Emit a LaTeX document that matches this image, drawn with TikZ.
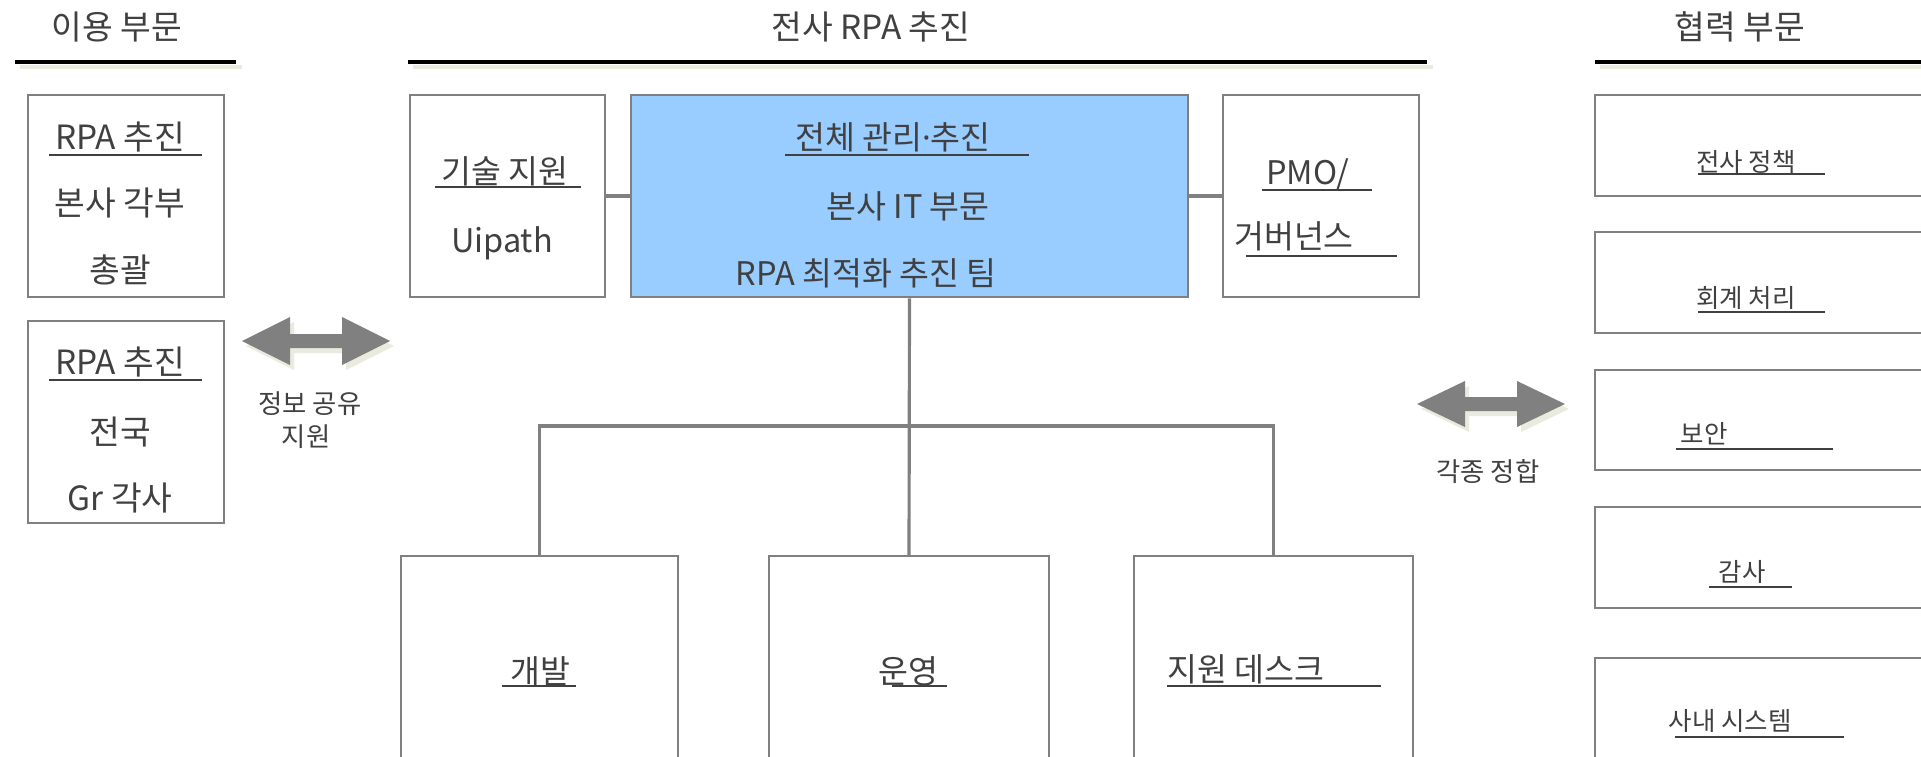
\documentclass[tikz,border=0pt]{standalone}
\usepackage{fontspec}
\setmainfont{Noto Sans CJK KR}
\newfontfamily\dotfont{Noto Sans}
\usetikzlibrary{fit}
\definecolor{boxgray}{RGB}{128,128,128}
\definecolor{txtgray}{RGB}{64,64,64}
\definecolor{headblue}{RGB}{153,204,255}
\definecolor{shade}{RGB}{234,234,222}
\begin{document}
\begin{tikzpicture}[x=0.02cm, y=-0.02cm,
                    box/.style={draw=boxgray, line width=1.5pt, inner sep=0pt},
                    link/.style={draw=boxgray, line width=1.8pt},
                    txt/.style={text=txtgray, inner sep=0pt, font=\fontsize{18.5}{22}\selectfont},
                    usetxt/.style={text=txtgray, inner sep=0pt, font=\fontsize{19}{22}\selectfont},
                    side/.style={text=txtgray, inner sep=0pt, font=\fontsize{14.5}{17}\selectfont},
                    small/.style={text=txtgray, inner sep=0pt, font=\fontsize{15}{18}\selectfont},
                    title/.style={text=txtgray, inner sep=0pt, font=\fontsize{19}{22}\selectfont},
                    uline/.style={draw=txtgray, line width=0.9pt},
                    headline/.style={draw=black, line width=2.2pt},
                    headshade/.style={draw=shade, line width=2.2pt},
                    bigarrow/.style={fill=boxgray},
                    arrowshade/.style={fill=shade, shift={(4,5)}}]
                    \useasboundingbox (0,0) rectangle (1921,757);
                    \clip (0,0) rectangle (1921,757);
                    \node (tuse) at (117,27) [title] {이용 부문};
                    \node (tall) at (871,27) [title] {전사 RPA 추진};
                    \node (tcoop) at (1740,27) [title] {협력 부문};
                    \draw[headshade] (20,67) -- (242,67);
                    \draw[headshade] (413,67) -- (1433,67);
                    \draw[headshade] (1600,67) -- (1921,67);
                    \draw[headline] (15,62) -- (236,62);
                    \draw[headline] (408,62) -- (1427,62);
                    \draw[headline] (1595,62) -- (1921,62);
                    \node (use1) [box, fit={(28,95) (224,297)}] {};
                    \node (use2) [box, fit={(28,321) (224,523)}] {};
                    \node (u1a) at (120,137) [usetxt] {RPA 추진};
                    \draw[uline] (49,155) -- (202,155);
                    \node (u1b) at (120,203) [usetxt] {본사 각부};
                    \node (u1c) at (120,270) [usetxt] {총괄};
                    \node (u2a) at (120,362) [usetxt] {RPA 추진};
                    \draw[uline] (49,380) -- (202,380);
                    \node (u2b) at (120,432) [usetxt] {전국};
                    \node (u2c) at (120,498) [usetxt] {Gr 각사};
                    \fill[arrowshade] (242,341) -- (290,317) -- (290,334) -- (342,334) -- (342,317) -- (390,341)
                          -- (342,365) -- (342,348) -- (290,348) -- (290,365) -- cycle;
                    \fill[bigarrow] (242,341) -- (290,317) -- (290,334) -- (342,334) -- (342,317) -- (390,341)
                          -- (342,365) -- (342,348) -- (290,348) -- (290,365) -- cycle;
                    \node (share1) at (310,404) [small] {정보 공유};
                    \node (share2) at (306,437) [small] {지원};
                    \node (tech) [box, fit={(410,95) (605,297)}] {};
                    \node (head) [box, fill=headblue, fit={(631,95) (1188,297)}] {};
                    \node (pmo) [box, fit={(1223,95) (1419,297)}] {};
                    \draw[link] (tech.east) -- (head.west);
                    \draw[link] (head.east) -- (pmo.west);
                    \node (techa) at (505,171) [txt] {기술 지원};
                    \draw[uline] (435,187) -- (581,187);
                    \node (techb) at (502,243) [txt] {Uipath};
                    \node (heada) at (893,137) [txt] {전체 관리{\dotfont ·}추진};
                    \draw[uline] (785,155) -- (1029,155);
                    \node (headb) at (908,206) [txt] {본사 IT 부문};
                    \node (headc) at (866,273) [txt] {RPA 최적화 추진 팀};
                    \node (pmoa) at (1308,175) [txt] {PMO/};
                    \draw[uline] (1262,190) -- (1372,190);
                    \node (pmob) at (1294,236) [txt] {거버넌스};
                    \draw[uline] (1246,256) -- (1397,256);
                    \node (dev) [box, fit={(401,556) (678,790)}] {};
                    \node (ops) [box, fit={(769,556) (1049,790)}] {};
                    \node (desk) [box, fit={(1134,556) (1413,790)}] {};
                    \coordinate (bus) at (909,426);
                    \draw[link] (head.south) -- (ops.north |- 0,556);
                    \draw[link] (dev.north |- 0,556) |- (bus) -| (desk.north |- 0,556);
                    \node (deva) at (540,671) [txt] {개발};
                    \draw[uline] (502,686) -- (576,686);
                    \node (opsa) at (908,671) [txt] {운영};
                    \draw[uline] (892,686) -- (947,686);
                    \node (deska) at (1246,669) [txt] {지원 데스크};
                    \draw[uline] (1167,686) -- (1381,686);
                    \fill[arrowshade] (1417,404) -- (1465,381) -- (1465,397) -- (1517,397) -- (1517,381) -- (1565,404)
                          -- (1517,427) -- (1517,411) -- (1465,411) -- (1465,427) -- cycle;
                    \fill[bigarrow] (1417,404) -- (1465,381) -- (1465,397) -- (1517,397) -- (1517,381) -- (1565,404)
                          -- (1517,427) -- (1517,411) -- (1465,411) -- (1465,427) -- cycle;
                    \node (fit1) at (1488,472) [small] {각종 정합};
                    \node (co1) [box, fit={(1595,95) (1940,196)}] {};
                    \node (co2) [box, fit={(1595,232) (1940,333)}] {};
                    \node (co3) [box, fit={(1595,370) (1940,470)}] {};
                    \node (co4) [box, fit={(1595,507) (1940,608)}] {};
                    \node (co5) [box, fit={(1595,658) (1940,790)}] {};
                    \node (co1a) at (1746,162) [side] {전사 정책};
                    \draw[uline] (1698,174) -- (1825,174);
                    \node (co2a) at (1746,298) [side] {회계 처리};
                    \draw[uline] (1698,312) -- (1825,312);
                    \node (co3a) at (1704,434) [side] {보안};
                    \draw[uline] (1676,449) -- (1833,449);
                    \node (co4a) at (1742,572) [side] {감사};
                    \draw[uline] (1709,587) -- (1792,587);
                    \node (co5a) at (1730,721) [side] {사내 시스템};
                    \draw[uline] (1675,737) -- (1844,737);
\end{tikzpicture}
\end{document}
